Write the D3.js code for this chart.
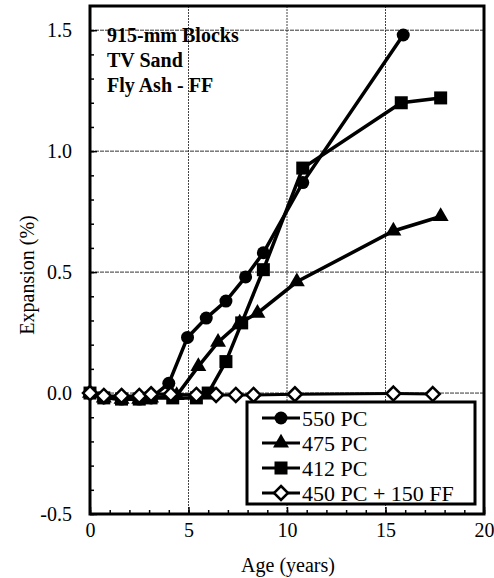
<!DOCTYPE html>
<html>
<head>
<meta charset="utf-8">
<script src="https://cdn.jsdelivr.net/npm/d3@7"></script>
<style>
  body { margin: 0; background: #fff; }
</style>
</head>
<body>
<svg width="494" height="578"></svg>
<script>
// data
var ages550 = [0, 0.7, 1.6, 2.5, 3.1, 4.0, 4.95, 5.9, 6.9, 7.9, 8.8, 10.8, 15.9]
var exp550  = [0, -0.02, -0.025, -0.025, -0.02, 0.04, 0.23, 0.31, 0.38, 0.48, 0.58, 0.87, 1.48]

var ages475 = [0, 0.7, 1.6, 2.5, 3.1, 4.4, 5.5, 6.5, 7.6, 8.5, 10.5, 15.4, 17.8]
var exp475  = [0, -0.02, -0.025, -0.025, -0.02, -0.01, 0.11, 0.21, 0.29, 0.33, 0.46, 0.67, 0.73]

var ages412 = [0, 0.7, 1.6, 2.5, 3.1, 4.2, 5.4, 6.0, 6.9, 7.7, 8.8, 10.8, 15.8, 17.8]
var exp412  = [0, -0.02, -0.025, -0.025, -0.02, -0.02, -0.02, 0.0, 0.13, 0.29, 0.51, 0.93, 1.2, 1.22]

var agesFF = [0, 0.7, 1.6, 2.5, 3.1, 4.1, 5.4, 6.4, 7.4, 8.3, 10.4, 15.4, 17.4]
var expFF  = [0, -0.012, -0.012, -0.012, -0.005, -0.005, -0.008, -0.008, -0.008, -0.008, -0.005, -0.002, -0.004]

var seriesNames = ["550 PC", "475 PC", "412 PC", "450 PC + 150 FF"]
var xTicks = [0, 5, 10, 15, 20]
var yTicks = [-0.5, 0.0, 0.5, 1.0, 1.5]
var titleLines = ["915-mm Blocks", "TV Sand", "Fly Ash - FF"]

var FONT = "'Liberation Serif', 'Times New Roman', Times, serif"

var svg = d3.select("svg")

var x = d3.scaleLinear().domain([0, 20]).range([90, 484])
var y = d3.scaleLinear().domain([-0.5, 1.6]).range([514, 6])

// grid lines
var grid = svg.append("g")
grid.selectAll("line.gx")
    .data([5, 10, 15]).enter()
    .append("line")
    .attr("x1", d => x(d)).attr("x2", d => x(d))
    .attr("y1", y(1.6)).attr("y2", y(-0.5))
    .attr("stroke", "#444").attr("stroke-width", 1)
    .attr("stroke-dasharray", "2,1")
grid.selectAll("line.gy")
    .data([0, 0.5, 1.0, 1.5]).enter()
    .append("line")
    .attr("x1", x(0)).attr("x2", x(20))
    .attr("y1", d => y(d)).attr("y2", d => y(d))
    .attr("stroke", "#333").attr("stroke-width", 1)
    .attr("stroke-dasharray", "4,1")

// axes
svg.append("g")
    .attr("transform", "translate(" + x(0) + ",0)")
    .call(d3.axisLeft(y).tickValues(yTicks).tickFormat(d => d.toFixed(1)).tickSize(-7).tickPadding(18))
svg.append("g")
    .attr("transform", "translate(" + x(0) + ",0)")
    .call(d3.axisLeft(y).tickValues(d3.range(-5, 16).map(d => d / 10)).tickFormat("").tickSize(-4))
svg.append("g")
    .attr("transform", "translate(0," + y(-0.5) + ")")
    .call(d3.axisBottom(x).tickValues(xTicks).tickSize(-7).tickPadding(9))
svg.append("g")
    .attr("transform", "translate(0," + y(-0.5) + ")")
    .call(d3.axisBottom(x).tickValues(d3.range(0, 21)).tickFormat("").tickSize(-4))

svg.selectAll(".domain").remove()
svg.selectAll(".tick line").attr("stroke", "#000").attr("stroke-width", 1.5)
svg.selectAll(".tick text")
    .attr("font-family", FONT)
    .attr("font-size", 20)
    .attr("fill", "#000")

// frame
svg.append("rect")
    .attr("x", x(0)).attr("y", y(1.6))
    .attr("width", x(20) - x(0)).attr("height", y(-0.5) - y(1.6))
    .attr("fill", "none").attr("stroke", "#000").attr("stroke-width", 3)

// series
var line = d3.line().x(d => x(d[0])).y(d => y(d[1]))
function zip(a, b) { return a.map((v, i) => [v, b[i]]) }

var series = [
  { name: seriesNames[2], pts: zip(ages412, exp412), shape: "square" },
  { name: seriesNames[1], pts: zip(ages475, exp475), shape: "triangle" },
  { name: seriesNames[0], pts: zip(ages550, exp550), shape: "circle" },
  { name: seriesNames[3], pts: zip(agesFF, expFF), shape: "diamond" }
]

function drawMarker(g, shape) {
  if (shape == "circle") {
    g.append("circle").attr("r", 6.5).attr("fill", "#000")
  } else if (shape == "square") {
    g.append("rect").attr("x", -6.5).attr("y", -6.5).attr("width", 13).attr("height", 13).attr("fill", "#000")
  } else if (shape == "triangle") {
    g.append("path").attr("d", d3.symbol(d3.symbolTriangle, 110)()).attr("fill", "#000")
  } else {
    g.append("path").attr("d", "M0,-7L7,0L0,7L-7,0Z")
      .attr("fill", "#fff").attr("stroke", "#000").attr("stroke-width", 2.5)
  }
}

series.forEach(function (s) {
  var g = svg.append("g")
  g.append("path")
      .datum(s.pts)
      .attr("d", line)
      .attr("fill", "none")
      .attr("stroke", "#000")
      .attr("stroke-width", s.shape == "diamond" ? 3 : 3.5)
  g.selectAll("g.pt")
      .data(s.pts).enter()
      .append("g")
      .attr("transform", d => "translate(" + x(d[0]) + "," + y(d[1]) + ")")
      .each(function () { drawMarker(d3.select(this), s.shape) })
})

// title block
svg.append("g").selectAll("text")
    .data(titleLines).enter()
    .append("text")
    .attr("x", 107)
    .attr("y", (d, i) => 42 + i * 25)
    .attr("font-family", FONT)
    .attr("font-size", 20)
    .attr("font-weight", "bold")
    .text(d => d)

// legend
var legend = svg.append("g")
legend.append("rect")
    .attr("x", 247).attr("y", 402).attr("width", 228).attr("height", 102)
    .attr("fill", "#fff").attr("stroke", "#000").attr("stroke-width", 3)
var legendShapes = ["circle", "triangle", "square", "diamond"]
seriesNames.forEach(function (n, i) {
  var row = legend.append("g").attr("transform", "translate(0," + (418 + i * 25) + ")")
  row.append("line").attr("x1", 262).attr("x2", 300).attr("y1", 0).attr("y2", 0)
      .attr("stroke", "#000").attr("stroke-width", 3)
  drawMarker(row.append("g").attr("transform", "translate(281,0)"), legendShapes[i])
  row.append("text").attr("x", 302).attr("y", 7.5)
      .attr("font-family", FONT)
      .attr("font-size", 22)
      .text(n)
})

// axis titles
svg.append("text")
    .attr("transform", "translate(34,275) rotate(-90)")
    .attr("text-anchor", "middle")
    .attr("font-family", FONT)
    .attr("font-size", 20)
    .text("Expansion (%)")
svg.append("text")
    .attr("x", 288).attr("y", 572)
    .attr("text-anchor", "middle")
    .attr("font-family", FONT)
    .attr("font-size", 20)
    .text("Age (years)")
</script>
</body>
</html>
